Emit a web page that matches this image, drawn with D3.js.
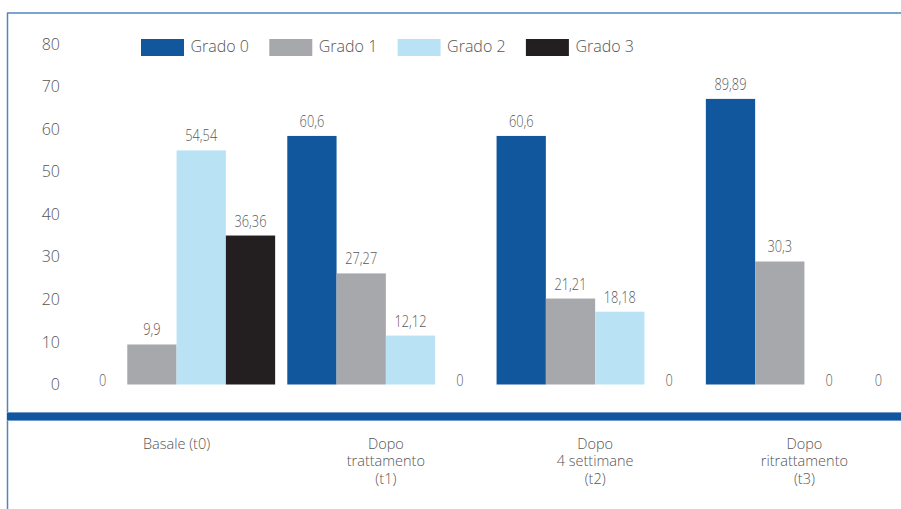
<!DOCTYPE html>
<html>
<head>
<meta charset="utf-8">
<script src="https://cdn.jsdelivr.net/npm/d3@7"></script>
<style>
  body { margin: 0; background: #fff; }
  svg text { font-family: "Open Sans", sans-serif; }
</style>
</head>
<body>
<svg id="canvas"></svg>
<script>
let categories = [
  ["Basale (t0)"],
  ["Dopo", "trattamento", "(t1)"],
  ["Dopo", "4 settimane", "(t2)"],
  ["Dopo", "ritrattamento", "(t3)"]
];
let series = ["Grado 0", "Grado 1", "Grado 2", "Grado 3"];
let colors = ["#10579e", "#a7a8ab", "#b9e3f5", "#231f20"];

// printed labels
let grado0 = [0, 60.6, 60.6, 89.89];
let grado1 = [9.9, 27.27, 21.21, 30.3];
let grado2 = [54.54, 12.12, 18.18, 0];
let grado3 = [36.36, 0, 0, 0];

// bar heights as drawn in the picture (against the axis)
let drawn0 = [0, 58.4, 58.4, 67.1];
let drawn1 = [9.4, 26.1, 20.2, 28.9];
let drawn2 = [55, 11.5, 17.1, 0];
let drawn3 = [35, 0, 0, 0];

let yTicks = [0, 10, 20, 30, 40, 50, 60, 70, 80];

let labels = [grado0, grado1, grado2, grado3];
let drawn = [drawn0, drawn1, drawn2, drawn3];

let width = 901, height = 509;
let canvas = d3.select("#canvas").attr("width", width).attr("height", height);

let x0 = d3.scaleBand().domain(d3.range(categories.length)).range([78, 903]).paddingInner(0.058).paddingOuter(0);
let x1 = d3.scaleBand().domain(d3.range(series.length)).range([0, x0.bandwidth()]);
let y = d3.scaleLinear().domain([0, 80]).range([384.5, 44]);

// frame
canvas.append("line").attr("x1", 7).attr("x2", width).attr("y1", 13).attr("y2", 13)
  .attr("stroke", "#4f86c0").attr("stroke-width", 1.5);
canvas.append("line").attr("x1", 7.5).attr("x2", 7.5).attr("y1", 13).attr("y2", height)
  .attr("stroke", "#4f86c0").attr("stroke-width", 1.5);

// y axis labels
let yAxis = canvas.append("g").attr("transform", "translate(60,0)")
  .call(d3.axisLeft(y).tickValues(yTicks).tickSize(0).tickPadding(0));
yAxis.select(".domain").remove();
yAxis.selectAll("text").attr("font-size", 16).attr("fill", "#555")
  .style("font-family", "'Open Sans', sans-serif").style("font-weight", 300);

// bars
let rows = [];
categories.forEach((c, i) => {
  series.forEach((s, j) => {
    rows.push({ cat: i, s: j, value: labels[j][i], h: drawn[j][i] });
  });
});

canvas.append("g").selectAll("rect")
  .data(rows.filter((d) => d.h > 0))
  .enter()
  .append("rect")
  .attr("x", (d) => x0(d.cat) + x1(d.s))
  .attr("y", (d) => y(d.h))
  .attr("width", x1.bandwidth())
  .attr("height", (d) => y(0) - y(d.h))
  .attr("fill", (d) => colors[d.s]);

canvas.append("g").selectAll("text")
  .data(rows)
  .enter()
  .append("text")
  .attr("transform", (d) => {
    let cx = x0(d.cat) + x1(d.s) + x1.bandwidth() / 2;
    let ty = d.h > 0 ? y(d.h) - 9 : y(0) + 1;
    return "translate(" + cx + "," + ty + ") scale(0.8,1)";
  })
  .attr("text-anchor", "middle")
  .attr("font-size", 16)
  .attr("fill", "#595959")
  .style("font-weight", 300)
  .text((d) => String(d.value).replace(".", ","));

// bottom axis band
canvas.append("rect").attr("x", 7).attr("y", 412).attr("width", width - 7).attr("height", 9)
  .attr("fill", "#11579f");
canvas.append("line").attr("x1", 7).attr("x2", width).attr("y1", 412.5).attr("y2", 412.5)
  .attr("stroke", "#6f9acb").attr("stroke-width", 1);
canvas.append("line").attr("x1", 7).attr("x2", width).attr("y1", 420.5).attr("y2", 420.5)
  .attr("stroke", "#6f9acb").attr("stroke-width", 1);

// category labels, one text per line
let catRows = [];
categories.forEach((lines, i) => {
  lines.forEach((line, k) => catRows.push({ cat: i, k: k, text: line }));
});
canvas.append("g").selectAll("text")
  .data(catRows)
  .enter()
  .append("text")
  .attr("x", (d) => x0(d.cat) + x0.bandwidth() / 2)
  .attr("y", (d) => 444 + d.k * 17.6)
  .attr("dy", "0.32em")
  .attr("text-anchor", "middle")
  .attr("font-size", 14.5)
  .attr("fill", "#555")
  .style("font-weight", 300)
  .text((d) => d.text);

// legend
let legend = canvas.append("g").selectAll("g")
  .data(series)
  .enter()
  .append("g")
  .attr("transform", (d, i) => "translate(" + (141 + i * 128.3) + ",39)");
legend.append("rect").attr("width", 43).attr("height", 17).attr("fill", (d, i) => colors[i]);
legend.append("text").attr("x", 49.5).attr("y", 7.5).attr("dy", "0.35em")
  .attr("font-size", 16).attr("fill", "#555").style("font-weight", 300)
  .text((d) => d);
</script>
</body>
</html>
